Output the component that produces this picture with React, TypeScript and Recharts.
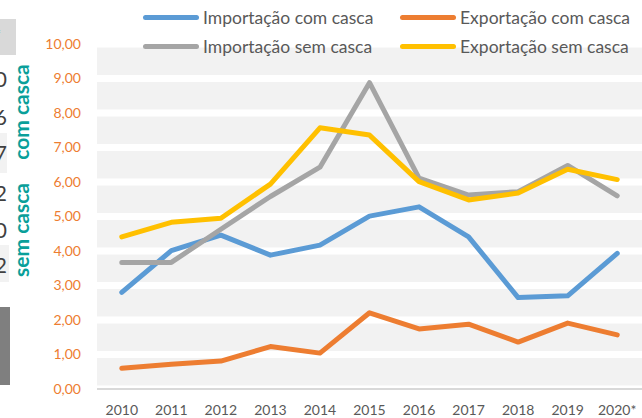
import { ComposedChart, Line, XAxis, YAxis, CartesianGrid, Legend } from 'recharts';

const years = ['2010', '2011', '2012', '2013', '2014', '2015', '2016', '2017', '2018', '2019', '2020*'];
const importacaoComCasca = [2.8, 4.01, 4.46, 3.88, 4.17, 5.01, 5.28, 4.41, 2.65, 2.7, 3.93];
const exportacaoComCasca = [0.6, 0.72, 0.81, 1.23, 1.04, 2.21, 1.74, 1.88, 1.36, 1.91, 1.57];
const importacaoSemCasca = [3.67, 3.67, 4.63, 5.58, 6.43, 8.88, 6.11, 5.62, 5.72, 6.48, 5.6];
const exportacaoSemCasca = [4.41, 4.83, 4.95, 5.94, 7.57, 7.36, 6.01, 5.48, 5.68, 6.37, 6.07];
const yTicks = [0, 1, 2, 3, 4, 5, 6, 7, 8, 9, 10];
const seriesNames = ['Importação com casca', 'Exportação com casca', 'Importação sem casca', 'Exportação sem casca'];

// cut-off digits from the neighbouring table on the left
const sideDigits = ['0', '6', '7', '2', '0', '2'];

const data = years.map((year, i) => ({
    year,
    impCom: importacaoComCasca[i],
    expCom: exportacaoComCasca[i],
    impSem: importacaoSemCasca[i],
    expSem: exportacaoSemCasca[i],
}));

const fmt = (v: number) => v.toFixed(2).replace('.', ',');

const LegendContent = ({ payload }: any) => {
    const items = [...(payload || [])].sort((a: any, b: any) => seriesNames.indexOf(a.value) - seriesNames.indexOf(b.value));
    return (
        <div style={{ display: 'grid', gridTemplateColumns: '257px 257px' }}>
            {items.map((p: any) => (
                <div key={p.value} style={{ display: 'flex', alignItems: 'center', height: 29 }}>
                    <div style={{ width: 56, height: 5, borderRadius: 3, background: p.color, marginRight: 4 }} />
                    <span style={{ fontSize: 17.5, color: '#595959', whiteSpace: 'nowrap' }}>{p.value}</span>
                </div>
            ))}
        </div>
    );
};

export default function App() {
    const teal = '#0a9f9a';
    const digitTops = [68, 106, 142, 182, 219, 254];
    return (
        <div style={{ position: 'absolute', left: 0, top: 0, width: 642, height: 418, background: '#fff', overflow: 'hidden', fontFamily: 'Lato, sans-serif' }}>
            {/* pieces of the neighbouring table */}
            <div style={{ position: 'absolute', left: 0, top: 19, width: 16, height: 36, background: '#d9d9d9' }} />
            <div style={{ position: 'absolute', left: -6, top: 24, color: teal, fontSize: 16, fontWeight: 700 }}>*</div>
            <div style={{ position: 'absolute', left: 0, top: 133, width: 7, height: 40, background: '#f2f2f2' }} />
            <div style={{ position: 'absolute', left: 0, top: 245, width: 9, height: 37, background: '#f2f2f2' }} />
            <div style={{ position: 'absolute', left: 0, top: 307, width: 10, height: 78, background: '#7f7f7f' }} />
            {sideDigits.map((d, i) => (
                <div key={i} style={{ position: 'absolute', left: -30, top: digitTops[i], width: 37, textAlign: 'right', fontSize: 21, lineHeight: '21px', color: '#404040' }}>{d}</div>
            ))}
            <div style={{ position: 'absolute', left: 20, top: 112, transform: 'translate(-50%, -50%) rotate(-90deg)', color: teal, fontSize: 21, fontWeight: 700, whiteSpace: 'nowrap' }}>com casca</div>
            <div style={{ position: 'absolute', left: 20, top: 230, transform: 'translate(-50%, -50%) rotate(-90deg)', color: teal, fontSize: 21, fontWeight: 700, whiteSpace: 'nowrap' }}>sem casca</div>

            <ComposedChart width={642} height={418} data={data} margin={{ top: 44, right: 0, left: 0, bottom: 0 }} style={{ position: 'absolute', left: 0, top: 0, fontFamily: 'Lato, sans-serif' }}>
                <CartesianGrid vertical={false} fill="#f2f2f2" stroke="#ffffff" strokeWidth={7} />
                <XAxis
                    dataKey="year"
                    scale="band"
                    height={29}
                    tickLine={false}
                    axisLine={{ stroke: '#d9d9d9', strokeWidth: 2 }}
                    tick={{ fontSize: 14, fill: '#595959' }}
                    tickMargin={10}
                    interval={0}
                />
                <YAxis
                    width={97}
                    domain={[0, 10]}
                    ticks={yTicks}
                    tickFormatter={fmt}
                    axisLine={false}
                    tickLine={false}
                    tickMargin={10}
                    tick={{ fontSize: 14, fill: '#ED7D31' }}
                />
                <Legend
                    layout="horizontal"
                    verticalAlign="middle"
                    align="center"
                    wrapperStyle={{ top: 3, left: 143, width: 520 }}
                    content={<LegendContent />}
                />
                <Line dataKey="impCom" name="Importação com casca" stroke="#5B9BD5" strokeWidth={5} dot={false} strokeLinecap="round" strokeLinejoin="round" isAnimationActive={false} />
                <Line dataKey="expCom" name="Exportação com casca" stroke="#ED7D31" strokeWidth={5} dot={false} strokeLinecap="round" strokeLinejoin="round" isAnimationActive={false} />
                <Line dataKey="impSem" name="Importação sem casca" stroke="#A5A5A5" strokeWidth={5} dot={false} strokeLinecap="round" strokeLinejoin="round" isAnimationActive={false} />
                <Line dataKey="expSem" name="Exportação sem casca" stroke="#FFC000" strokeWidth={5} dot={false} strokeLinecap="round" strokeLinejoin="round" isAnimationActive={false} />
            </ComposedChart>
        </div>
    );
}
